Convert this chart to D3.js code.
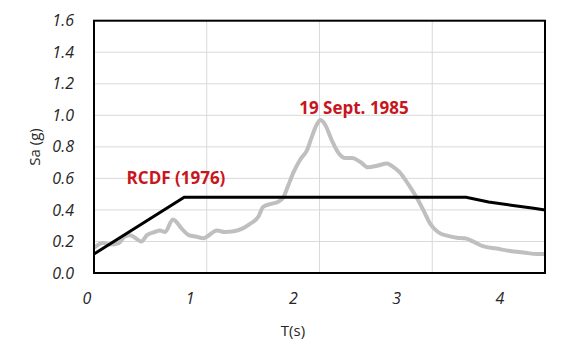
<html>
<head>
<meta charset="utf-8">
<script src="https://d3js.org/d3.v7.min.js"></script>
<style>
  body { margin: 0; background: #fff; }
  text { font-family: "Open Sans", sans-serif; }
</style>
</head>
<body>
<script>
// code spectrum RCDF (1976)
var rcdfT  = [0, 0.8, 3.3, 3.5, 3.7, 3.9, 4.0];
var rcdfSa = [0.12, 0.48, 0.48, 0.45, 0.43, 0.41, 0.40];

// 19 Sept. 1985 record
var eqT  = [0, 0.08, 0.14, 0.22, 0.27, 0.32, 0.42, 0.47, 0.54, 0.585, 0.63, 0.70, 0.78, 0.84, 0.91, 0.97,
            1.0, 1.09, 1.16, 1.24, 1.31, 1.38, 1.46, 1.50, 1.58, 1.63, 1.68, 1.72, 1.77, 1.83, 1.89, 1.93,
            1.975, 2.01, 2.05, 2.11, 2.17, 2.23, 2.29, 2.36, 2.43, 2.51, 2.60, 2.65, 2.71, 2.79, 2.86, 2.92,
            2.98, 3.05, 3.14, 3.22, 3.29, 3.36, 3.45, 3.57, 3.69, 3.81, 3.93, 4.0];
var eqSa = [0.16, 0.19, 0.18, 0.19, 0.23, 0.24, 0.20, 0.24, 0.26, 0.27, 0.26, 0.34, 0.28, 0.24, 0.23, 0.22,
            0.23, 0.27, 0.26, 0.265, 0.28, 0.31, 0.36, 0.42, 0.44, 0.45, 0.48, 0.55, 0.64, 0.72, 0.78, 0.86,
            0.94, 0.97, 0.94, 0.84, 0.76, 0.73, 0.73, 0.705, 0.67, 0.68, 0.695, 0.675, 0.64, 0.56, 0.48, 0.40,
            0.315, 0.26, 0.235, 0.224, 0.22, 0.20, 0.17, 0.155, 0.14, 0.13, 0.12, 0.12];

var xTicks = [0, 1, 2, 3, 4];
var yTicks = [0, 0.2, 0.4, 0.6, 0.8, 1.0, 1.2, 1.4, 1.6];

var width = 569, height = 360;
var pLeft = 94, pRight = 545, pTop = 20.7, pBottom = 273;

var svg = d3.select("body").append("svg")
  .attr("width", width).attr("height", height);

var x = d3.scaleLinear().domain([0, 4]).range([pLeft, pRight]);
var y = d3.scaleLinear().domain([0, 1.6]).range([pBottom, pTop]);
// x labels sit a bit left of their gridlines in the original
var xLab = d3.scaleLinear().domain([0, 4]).range([87, 500]);

// grid
svg.append("g").selectAll("line").data(yTicks.slice(1, -1)).join("line")
  .attr("x1", pLeft).attr("x2", pRight)
  .attr("y1", d => y(d)).attr("y2", d => y(d))
  .attr("stroke", "#d9d9d9").attr("stroke-width", 1);
svg.append("g").selectAll("line").data(xTicks.slice(1, -1)).join("line")
  .attr("y1", pTop).attr("y2", pBottom)
  .attr("x1", d => x(d)).attr("x2", d => x(d))
  .attr("stroke", "#d9d9d9").attr("stroke-width", 1);

// tick labels
svg.append("g").selectAll("text").data(yTicks).join("text")
  .attr("x", 74).attr("y", d => y(d)).attr("dy", "0.35em")
  .attr("text-anchor", "end")
  .style("font-size", "16px").style("font-style", "italic").attr("fill", "#262626")
  .text(d => d.toFixed(1));
svg.append("g").selectAll("text").data(xTicks).join("text")
  .attr("x", d => xLab(d)).attr("y", 298).attr("dy", "0.35em")
  .attr("text-anchor", "middle")
  .style("font-size", "16px").style("font-style", "italic").attr("fill", "#262626")
  .text(d => d);

// axis titles
svg.append("text")
  .attr("transform", "translate(35,147) rotate(-90)")
  .attr("text-anchor", "middle").attr("dy", "0.35em")
  .style("font-size", "15px").attr("fill", "#262626")
  .text("Sa (g)");
svg.append("text")
  .attr("x", 293).attr("y", 331).attr("dy", "0.35em")
  .attr("text-anchor", "middle")
  .style("font-size", "15px").attr("fill", "#262626")
  .text("T(s)");

svg.append("path")
  .datum(d3.zip(eqT, eqSa))
  .attr("d", d3.line().x(d => x(d[0])).y(d => y(d[1])).curve(d3.curveMonotoneX))
  .attr("fill", "none").attr("stroke", "#bfbfbf").attr("stroke-width", 4)
  .attr("stroke-linejoin", "round");

svg.append("path")
  .datum(d3.zip(rcdfT, rcdfSa))
  .attr("d", d3.line().x(d => x(d[0])).y(d => y(d[1])))
  .attr("fill", "none").attr("stroke", "#000").attr("stroke-width", 3);

// plot frame
svg.append("rect")
  .attr("x", pLeft).attr("y", pTop)
  .attr("width", pRight - pLeft).attr("height", pBottom - pTop)
  .attr("fill", "none").attr("stroke", "#000").attr("stroke-width", 2);

// labels
svg.append("text")
  .attr("x", 176).attr("y", 178).attr("dy", "0.35em")
  .attr("text-anchor", "middle")
  .style("font-size", "17px").style("font-weight", "bold").attr("fill", "#c8161d")
  .text("RCDF (1976)");
svg.append("text")
  .attr("x", 354).attr("y", 108).attr("dy", "0.35em")
  .attr("text-anchor", "middle")
  .style("font-size", "17px").style("font-weight", "bold").attr("fill", "#c8161d")
  .text("19 Sept. 1985");
</script>
</body>
</html>
